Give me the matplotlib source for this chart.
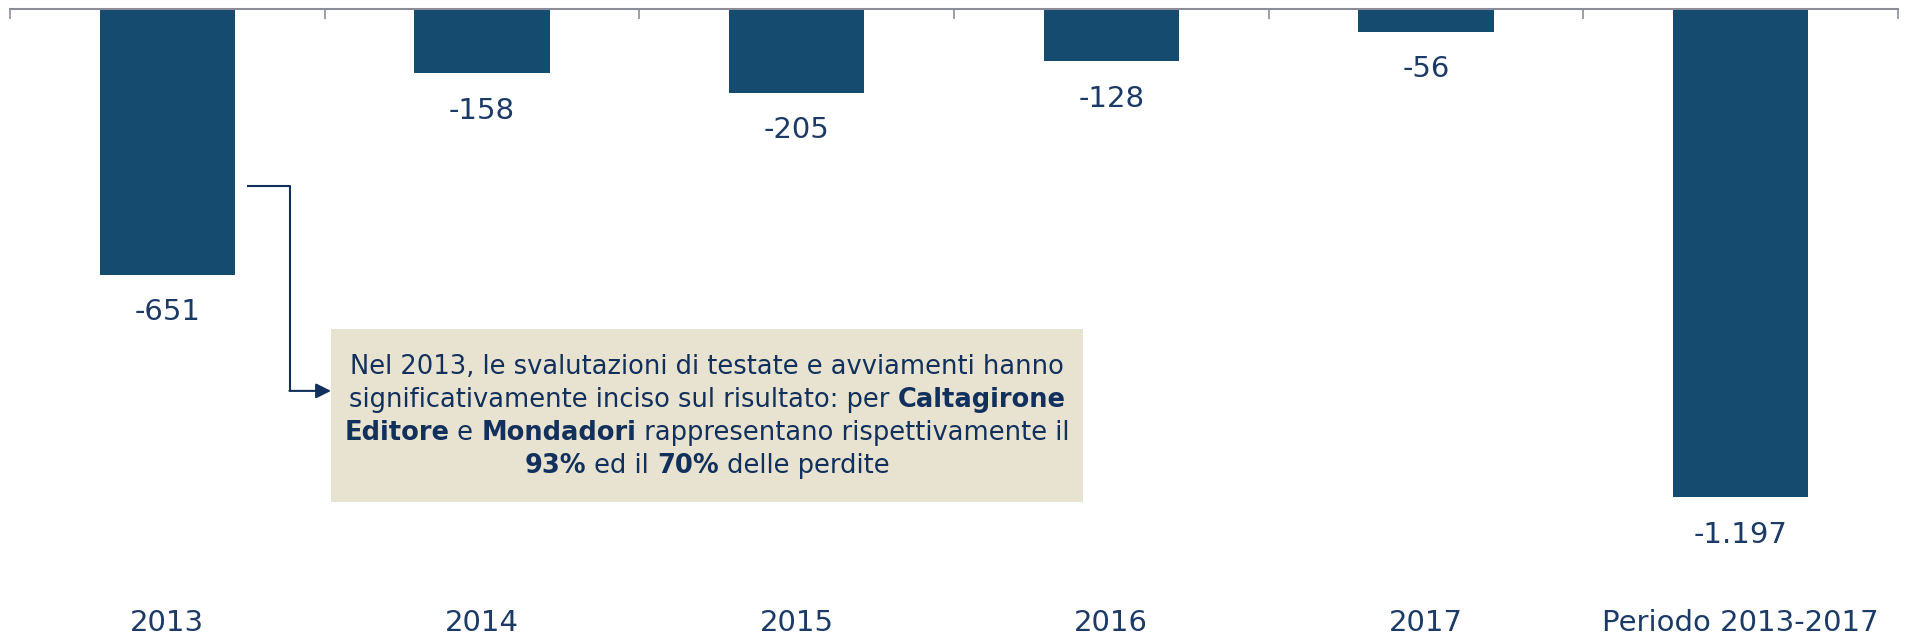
import matplotlib
matplotlib.use("Agg")
import matplotlib.pyplot as plt
from matplotlib.transforms import blended_transform_factory, offset_copy

# dati
categories = ['2013', '2014', '2015', '2016', '2017', 'Periodo 2013-2017']
values = [-651, -158, -205, -128, -56, -1197]
value_labels = ['-651', '-158', '-205', '-128', '-56', '-1.197']

# testo del riquadro (parte, grassetto)
note_lines = [
    [("Nel 2013, le svalutazioni di testate e avviamenti hanno", False)],
    [("significativamente inciso sul risultato: per ", False), ("Caltagirone", True)],
    [("Editore", True), (" e ", False), ("Mondadori", True), (" rappresentano rispettivamente il", False)],
    [("93%", True), (" ed il ", False), ("70%", True), (" delle perdite", False)],
]

bar_color = '#154B6F'
text_color = '#1B3A66'
note_color = '#12305C'
box_color = '#E8E3D1'
axis_color = '#8A8C9A'

plt.rcParams['font.family'] = ['DejaVu Sans']

fig = plt.figure(figsize=(19.1, 6.4), dpi=100)
ax = fig.add_axes([10/1910, 50/640, 1888/1910, 581/640])

x = list(range(len(categories)))
ax.bar(x, values, width=0.43, color=bar_color)
ax.set_xlim(-0.5, len(categories) - 0.5)
ax.set_ylim(-1424, 0)

# asse in alto con tacche ai bordi delle categorie
for s in ['left', 'right', 'bottom']:
    ax.spines[s].set_visible(False)
ax.spines['top'].set_color(axis_color)
ax.spines['top'].set_linewidth(1.5)
ax.set_yticks([])
ax.set_xticks([])
ax.set_xticks([i - 0.5 for i in range(len(categories) + 1)], minor=True)
ax.tick_params(which='minor', bottom=False, top=True, direction='in',
               length=7, width=1.2, color=axis_color, labeltop=False, labelbottom=False)

# etichette valori
for i, v in enumerate(values):
    tr = offset_copy(ax.transData, fig=fig, x=0, y=-27, units='points')
    ax.text(i, v, value_labels[i], transform=tr, ha='center', va='center',
            fontsize=21, color=text_color)

# etichette categorie
btr = blended_transform_factory(ax.transData, ax.transAxes)
for i, c in enumerate(categories):
    ax.text(i, -0.057, c, transform=btr, ha='center', va='center',
            fontsize=21, color=text_color)

# riquadro nota
ax.add_patch(plt.Rectangle((0.52, -1208), 2.39, 1208 - 784, facecolor=box_color,
                           edgecolor='none', zorder=1))

# connettore
ax.plot([0.253, 0.39, 0.39], [-434, -434, -936], color=note_color, lw=1.5,
        solid_capstyle='butt', zorder=2)
ax.annotate('', xy=(0.52, -936), xytext=(0.388, -936),
            arrowprops=dict(arrowstyle='-|>,head_length=0.9,head_width=0.45',
                            color=note_color, lw=1.5, shrinkA=0, shrinkB=0), zorder=2)

# testo con parti in grassetto
fig.canvas.draw()
renderer = fig.canvas.get_renderer()
cx = 1.715
line_y = [-877, -958, -1039, -1120]
fs = 18.5
for parts, ly in zip(note_lines, line_y):
    widths = []
    for t, b in parts:
        tmp = ax.text(0, 0, t, fontsize=fs, fontweight='bold' if b else 'normal')
        widths.append(tmp.get_window_extent(renderer).width)
        tmp.remove()
    total = sum(widths)
    x0_px = ax.transData.transform((cx, ly))[0] - total / 2
    for (t, b), w in zip(parts, widths):
        xd = ax.transData.inverted().transform((x0_px, 0))[0]
        ax.text(xd, ly, t, fontsize=fs, fontweight='bold' if b else 'normal',
                color=note_color, ha='left', va='center', zorder=3)
        x0_px += w

fig.savefig('out.png', dpi=100)
